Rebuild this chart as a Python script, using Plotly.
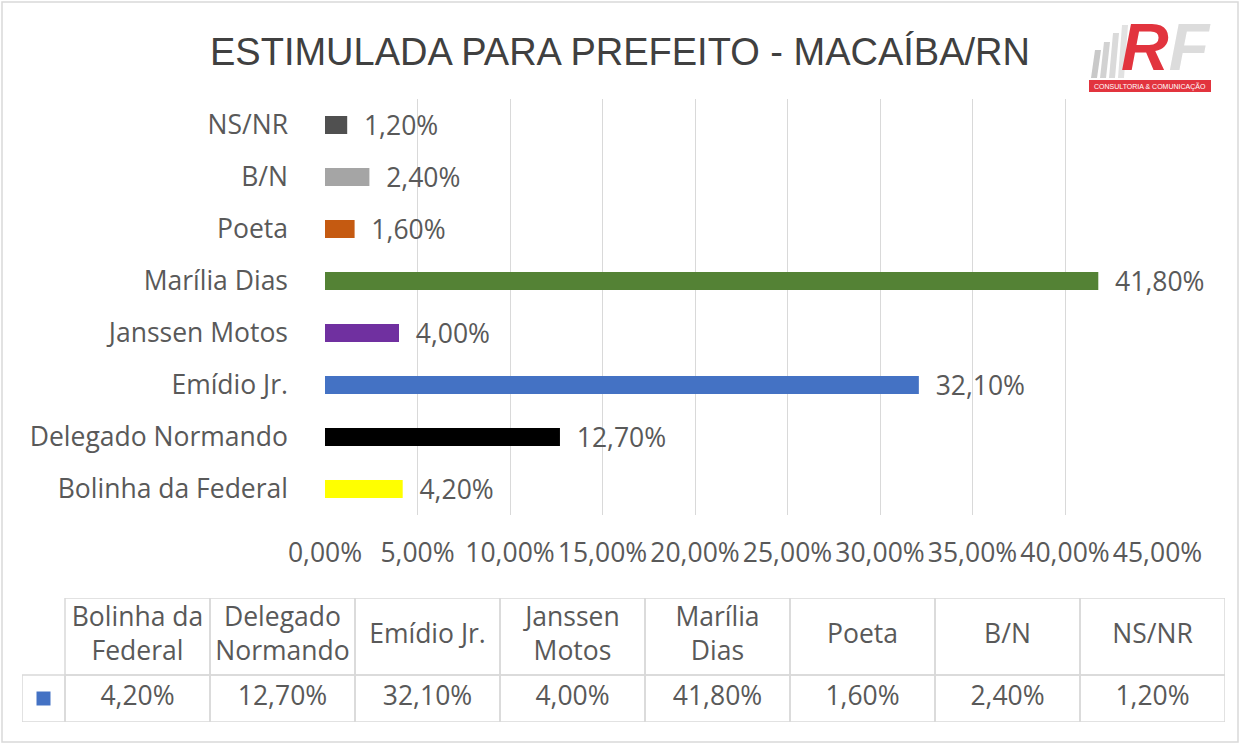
import plotly.graph_objects as go

# ---------------- data ----------------
categories = ["Bolinha da Federal", "Delegado Normando", "Emídio Jr.", "Janssen Motos",
              "Marília Dias", "Poeta", "B/N", "NS/NR"]
values = [4.2, 12.7, 32.1, 4.0, 41.8, 1.6, 2.4, 1.2]
bar_colors = ["#FFFF00", "#000000", "#4472C4", "#7030A0", "#548235", "#C55A11", "#A5A5A5", "#505050"]
table_headers = ["Bolinha da<br>Federal", "Delegado<br>Normando", "Emídio Jr.", "Janssen<br>Motos",
                 "Marília<br>Dias", "Poeta", "B/N", "NS/NR"]
title_text = "ESTIMULADA PARA PREFEITO - MACAÍBA/RN"
series_color = "#4472C4"

# ---------------- geometry helpers ----------------
W, H = 1240, 745
def fx(px): return px / W
def fy(py): return 1 - py / H

def fmt(v):
    return f"{v:.2f}".replace(".", ",") + "%"

TXT = "#595959"
GRID = "#D9D9D9"
FONT = "Open Sans"
FS = 26.5

fig = go.Figure()

# ---------------- bar chart ----------------
fig.add_trace(go.Bar(
    x=values, y=categories, orientation="h",
    marker=dict(color=bar_colors, line=dict(width=0)),
    width=0.35,
    text=["\u00a0\u00a0" + fmt(v) for v in values],
    textposition="outside", constraintext="none", cliponaxis=False,
    textfont=dict(family=FONT, size=FS, color=TXT),
    hoverinfo="skip", showlegend=False,
    xaxis="x", yaxis="y",
))

# ---------------- data table ----------------
VAL_H, HEAD_H = 47, 77
COL_W, KEY_W = 145, 43
n = len(categories)
x_left = -0.5 - KEY_W / COL_W
head_c = VAL_H + HEAD_H / 2
val_c = VAL_H / 2

shapes = []
for i in range(n):
    shapes.append(dict(type="rect", xref="x2", yref="y2", x0=i - 0.5, x1=i + 0.5,
                       y0=VAL_H, y1=VAL_H + HEAD_H, line=dict(color=GRID, width=1.5)))
    shapes.append(dict(type="rect", xref="x2", yref="y2", x0=i - 0.5, x1=i + 0.5,
                       y0=0, y1=VAL_H, line=dict(color=GRID, width=1.5)))
shapes.append(dict(type="rect", xref="x2", yref="y2", x0=x_left, x1=-0.5,
                   y0=0, y1=VAL_H, line=dict(color=GRID, width=1.5)))

fig.add_trace(go.Scatter(
    x=list(range(n)), y=[head_c] * n, mode="text", text=table_headers,
    textposition="middle center", textfont=dict(family=FONT, size=FS, color=TXT),
    hoverinfo="skip", showlegend=False, xaxis="x2", yaxis="y2", cliponaxis=False,
))
fig.add_trace(go.Scatter(
    x=list(range(n)), y=[val_c] * n, mode="text", text=[fmt(v) for v in values],
    textposition="middle center", textfont=dict(family=FONT, size=FS, color=TXT),
    hoverinfo="skip", showlegend=False, xaxis="x2", yaxis="y2", cliponaxis=False,
))
fig.add_trace(go.Scatter(
    x=[(x_left - 0.5) / 2], y=[val_c], mode="markers",
    marker=dict(symbol="square", size=14, color=series_color),
    hoverinfo="skip", showlegend=False, xaxis="x2", yaxis="y2",
))

# ---------------- outer border ----------------
shapes.append(dict(type="rect", xref="paper", yref="paper", x0=fx(2), x1=fx(1238),
                   y0=fy(742), y1=fy(2), line=dict(color="#D9D9D9", width=1.5)))

# ---------------- logo (decorative) ----------------
def path(pts):
    return "M " + " L ".join(f"{fx(a)},{fy(b)}" for a, b in pts) + " Z"

stripe_tops = [50, 42, 33, 25]
for k, top in enumerate(stripe_tops):
    x0 = 1091 + k * 9
    shapes.append(dict(type="path", xref="paper", yref="paper",
                       path=path([(x0, 78), (x0 + 6, 78), (x0 + 10, top), (x0 + 4, top)]),
                       fillcolor=["#C9C9C9", "#D2D2D2", "#DADADA", "#E2E2E2"][k], line=dict(width=0)))
shapes.append(dict(type="rect", xref="paper", yref="paper", x0=fx(1089), x1=fx(1211),
                   y0=fy(92), y1=fy(80), fillcolor="#E2343E", line=dict(width=0)))

annotations = [
    dict(text="<b><i><span style='color:#E2343E'>R</span>F</i></b>", x=fx(1166), y=fy(47),
         xref="paper", yref="paper", showarrow=False,
         font=dict(family="Liberation Sans", size=66, color="#DCDCDC"),
         xanchor="center", yanchor="middle"),
    dict(text="CONSULTORIA &amp; COMUNICAÇÃO", x=fx(1150), y=fy(86), xref="paper", yref="paper",
         showarrow=False, font=dict(family="Liberation Sans", size=7, color="#FFFFFF"),
         xanchor="center", yanchor="middle"),
]

fig.update_layout(
    width=W, height=H,
    margin=dict(l=0, r=0, t=0, b=0),
    paper_bgcolor="white", plot_bgcolor="white",
    template="none",
    separators=",.",
    font=dict(family=FONT, size=FS, color=TXT),
    title=dict(text=title_text, x=0.5, xanchor="center", y=fy(52), yanchor="middle",
               font=dict(family="Liberation Sans", size=38, color="#404040")),
    xaxis=dict(domain=[fx(325), fx(1157.5)], range=[0, 45], dtick=5, tick0=0,
               tickformat=".2f", ticksuffix="%", tickangle=0,
               showgrid=True, gridcolor=GRID, gridwidth=1, zeroline=False,
               showline=False, ticks="", ticklabelstandoff=19,
               tickfont=dict(family=FONT, size=FS, color=TXT), anchor="y", fixedrange=True),
    yaxis=dict(domain=[fy(515), fy(99)], range=[-0.5, n - 0.5], type="category",
               showgrid=False, zeroline=False, showline=False, ticks="",
               ticklabelstandoff=36, tickfont=dict(family=FONT, size=FS, color=TXT),
               anchor="x", fixedrange=True),
    xaxis2=dict(domain=[fx(22), fx(1225)], range=[x_left, n - 0.5], visible=False,
                anchor="y2", fixedrange=True),
    yaxis2=dict(domain=[fy(722), fy(598)], range=[0, VAL_H + HEAD_H], visible=False,
                anchor="x2", fixedrange=True),
    shapes=shapes,
    annotations=annotations,
    showlegend=False,
)

fig.write_html("out.html")
